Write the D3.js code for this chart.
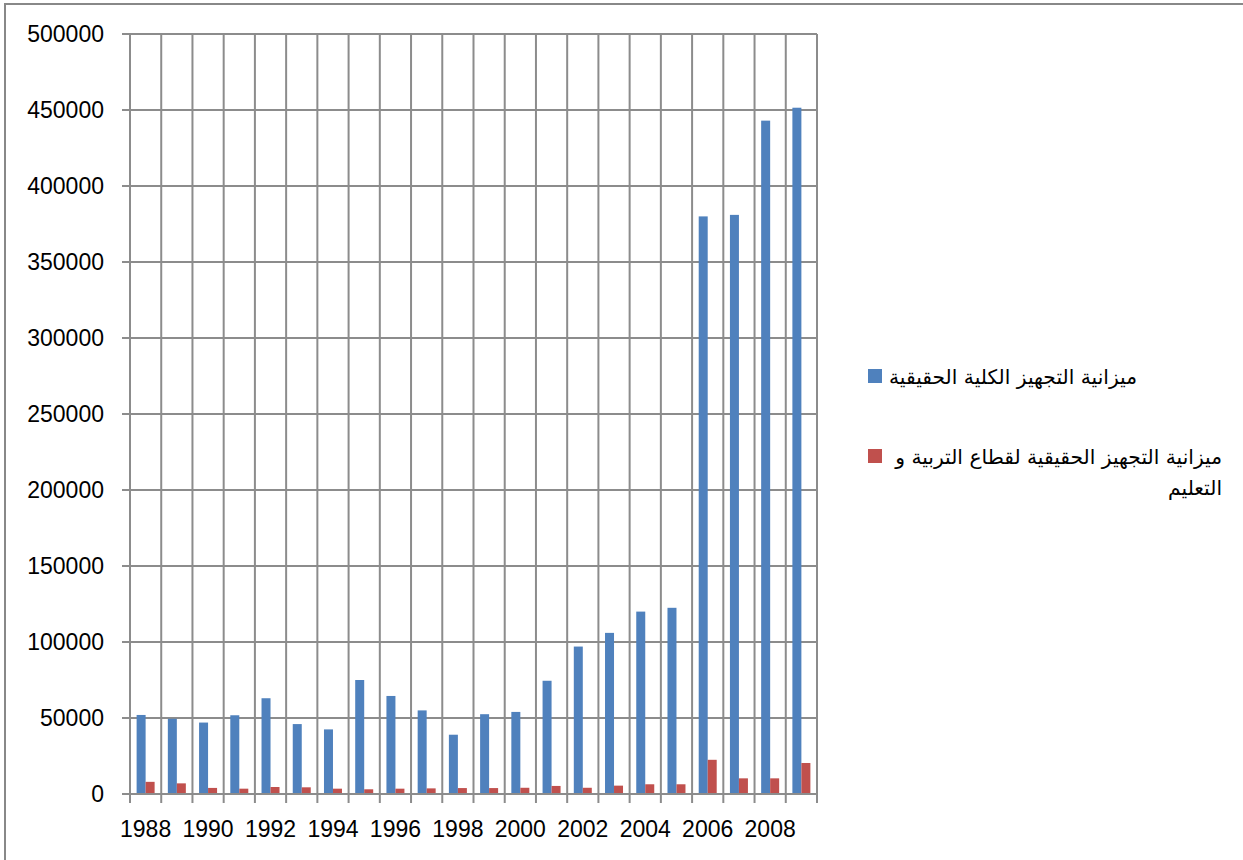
<!DOCTYPE html>
<html>
<head>
<meta charset="utf-8">
<script src="https://cdn.jsdelivr.net/npm/d3@7/dist/d3.min.js"></script>
<style>
  html, body { margin: 0; padding: 0; background: #fff; }
  svg { display: block; }
</style>
</head>
<body>
<svg id="chart" width="1243" height="860"></svg>
<script>
// Years on the category axis
const years = [1988, 1989, 1990, 1991, 1992, 1993, 1994, 1995, 1996, 1997, 1998,
               1999, 2000, 2001, 2002, 2003, 2004, 2005, 2006, 2007, 2008, 2009];

// Total real equipment budget
const totalBudget = [52000, 49500, 47000, 51800, 63000, 46000, 42500, 75000, 64500, 55000, 39000,
                     52500, 54000, 74500, 97000, 106000, 120000, 122500, 380000, 381000, 443000, 451500];

// Real equipment budget for the education sector
const educationBudget = [8000, 7000, 4000, 3500, 4600, 4400, 3500, 3100, 3500, 3700, 3900,
                         3900, 4100, 5300, 4100, 5500, 6400, 6400, 22500, 10300, 10300, 20400];

const seriesNames = ["ميزانية التجهيز الكلية الحقيقية",
                     "ميزانية التجهيز الحقيقية لقطاع التربية و التعليم"];
const seriesColors = ["#4F81BD", "#C0504D"];
const yTicks = [0, 50000, 100000, 150000, 200000, 250000, 300000, 350000, 400000, 450000, 500000];
const xLabelYears = [1988, 1990, 1992, 1994, 1996, 1998, 2000, 2002, 2004, 2006, 2008];

const svg = d3.select("#chart");
const gridColor = "#8c8c8c";
const numFont = "'Liberation Sans', Arial, sans-serif";

// Outer chart frame (only left and top edges fall inside the canvas)
svg.append("rect")
  .attr("x", 5).attr("y", 4).attr("width", 1300).attr("height", 900)
  .attr("fill", "none").attr("stroke", "#888").attr("stroke-width", 2);

const plot = { left: 130, right: 817, top: 34, bottom: 794 };

const x = d3.scaleBand().domain(years).range([plot.left, plot.right]).paddingInner(0).paddingOuter(0);
const y = d3.scaleLinear().domain([0, 500000]).range([plot.bottom, plot.top]);

// Two adjacent bars per year, centred in the category with a gap on each side
const xSeries = d3.scaleBand().domain([0, 1])
  .range([0, x.bandwidth()]).paddingOuter(0.735).paddingInner(0);

// Horizontal gridlines with tick stubs on the left
svg.append("g").selectAll("line").data(yTicks).join("line")
  .attr("x1", plot.left - 8).attr("x2", plot.right)
  .attr("y1", d => y(d)).attr("y2", d => y(d))
  .attr("stroke", gridColor).attr("stroke-width", 2);

// Vertical gridlines at category boundaries, with tick stubs below the axis
const bounds = years.map(d => x(d)).concat([x(years[years.length - 1]) + x.bandwidth()]);
svg.append("g").selectAll("line").data(bounds).join("line")
  .attr("x1", d => d).attr("x2", d => d)
  .attr("y1", plot.top).attr("y2", plot.bottom + 9)
  .attr("stroke", gridColor).attr("stroke-width", 2);

// Bars
const seriesData = [totalBudget, educationBudget];
seriesData.forEach((vals, si) => {
  svg.append("g").selectAll("rect").data(years).join("rect")
    .attr("x", d => x(d) + xSeries(si))
    .attr("width", xSeries.bandwidth())
    .attr("y", (d, i) => y(vals[i]))
    .attr("height", (d, i) => y(0) - y(vals[i]))
    .attr("fill", seriesColors[si]);
});

// Baseline drawn over the bar bottoms
svg.append("line")
  .attr("x1", plot.left - 8).attr("x2", plot.right)
  .attr("y1", y(0)).attr("y2", y(0))
  .attr("stroke", gridColor).attr("stroke-width", 2);

// Y axis labels
svg.append("g").selectAll("text").data(yTicks).join("text")
  .attr("x", 104).attr("y", d => y(d))
  .attr("dy", "0.36em")
  .attr("text-anchor", "end")
  .attr("font-family", numFont).attr("font-size", 23)
  .attr("fill", "#000")
  .text(d => d);

// X axis labels (every other year)
svg.append("g").selectAll("text").data(xLabelYears).join("text")
  .attr("x", d => x(d) + x.bandwidth() / 2)
  .attr("y", 837)
  .attr("text-anchor", "middle")
  .attr("font-family", numFont).attr("font-size", 23)
  .attr("fill", "#000")
  .text(d => d);

// Legend
const arFont = "'DejaVu Sans', 'Noto Sans', sans-serif";
const legend = svg.append("g");
legend.append("rect").attr("x", 868).attr("y", 369).attr("width", 14).attr("height", 14).attr("fill", seriesColors[0]);
legend.append("rect").attr("x", 868).attr("y", 449).attr("width", 14).attr("height", 14).attr("fill", seriesColors[1]);

const l1 = legend.append("text")
  .attr("x", 1137).attr("y", 384)
  .attr("text-anchor", "end")
  .attr("font-family", arFont).attr("font-size", 20)
  .attr("fill", "#000")
  .text(seriesNames[0]);

// Fit the font size so the first entry spans the legend column
const w = l1.node().getComputedTextLength();
const fs = Math.max(14, Math.min(24, 20 * 248 / w));
l1.attr("font-size", fs);

const words = seriesNames[1].split(" ");
const line1 = words.slice(0, words.length - 1).join(" ");
const line2 = words[words.length - 1];
legend.append("text")
  .attr("x", 1222).attr("y", 464)
  .attr("text-anchor", "end")
  .attr("font-family", arFont).attr("font-size", fs)
  .attr("fill", "#000")
  .text(line1);
legend.append("text")
  .attr("x", 1222).attr("y", 495)
  .attr("text-anchor", "end")
  .attr("font-family", arFont).attr("font-size", fs)
  .attr("fill", "#000")
  .text(line2);
</script>
</body>
</html>
